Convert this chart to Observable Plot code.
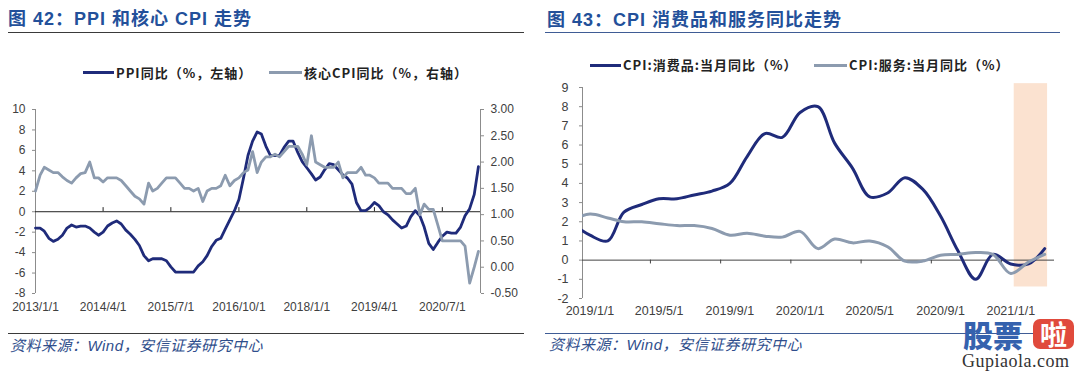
<!DOCTYPE html>
<html><head><meta charset="utf-8">
<script src="https://cdn.jsdelivr.net/npm/d3@7"></script>
<script src="https://cdn.jsdelivr.net/npm/@observablehq/plot@0.6"></script>
<style>
html,body{margin:0;padding:0;background:#fff;overflow:hidden;}
#page{position:relative;width:1080px;height:372px;overflow:hidden;background:#fff;font-family:"Liberation Sans",Arial,sans-serif;}
.abs{position:absolute;white-space:nowrap;}
.title{font-family:"Liberation Sans","Noto Sans CJK SC",sans-serif;font-weight:bold;font-size:18px;color:#23509A;letter-spacing:1px;line-height:20px;}
.rule{position:absolute;height:0;}
.leg{font-family:"Noto Sans CJK SC",sans-serif;font-size:13px;font-weight:600;color:#222;letter-spacing:1px;line-height:16px;}
.legline{position:absolute;height:3px;}
.foot{font-family:"Liberation Sans","Noto Sans CJK SC",sans-serif;font-style:italic;font-size:15px;color:#2F4E8C;letter-spacing:0.5px;line-height:18px;}
</style></head>
<body><div id="page">
  <div class="abs title" style="left:8px;top:9px;">图 42：PPI 和核心 CPI 走势</div>
  <div class="rule" style="left:8px;width:516px;top:32px;border-top:1.5px solid #3a3a3a;"></div>
  <div class="abs title" style="left:547px;top:10px;">图 43：CPI 消费品和服务同比走势</div>
  <div class="rule" style="left:545px;width:515px;top:32px;border-top:1.5px solid #3F5C95;"></div>

  <div class="legline" style="left:83px;width:31px;top:71px;background:#1F2B7A;"></div>
  <div class="abs leg" style="left:116px;top:65px;">PPI同比（%，左轴）</div>
  <div class="legline" style="left:269px;width:33px;top:71px;background:#8C9BAF;"></div>
  <div class="abs leg" style="left:304px;top:65px;">核心CPI同比（%，右轴）</div>

  <div class="legline" style="left:590px;width:31px;top:64px;background:#1F2B7A;"></div>
  <div class="abs leg" style="left:623px;top:57px;">CPI:消费品:当月同比（%）</div>
  <div class="legline" style="left:814px;width:33px;top:64px;background:#8C9BAF;"></div>
  <div class="abs leg" style="left:849px;top:57px;">CPI:服务:当月同比（%）</div>

  <div id="leftChart" class="abs" style="left:0;top:95px;"></div>
  <div id="rightChart" class="abs" style="left:540px;top:75px;"></div>

  <div class="rule" style="left:8px;width:516px;top:333px;border-top:1.5px solid #3a3a3a;"></div>
  <div class="abs foot" style="left:10px;top:337px;">资料来源：Wind，安信证券研究中心</div>
  <div class="rule" style="left:545px;width:520px;top:333px;border-top:1.5px solid #3F5C95;"></div>
  <div class="abs foot" style="left:549px;top:336px;">资料来源：Wind，安信证券研究中心</div>

  <div class="abs" style="left:963px;top:319px;font-family:'Noto Sans CJK SC',sans-serif;font-weight:900;font-size:30px;line-height:31px;color:#3562AE;">股票</div>
  <div class="abs" style="left:1033px;top:319px;width:41px;height:30px;background:#E04A3C;border-radius:7px;color:#fff;font-family:'Noto Sans CJK SC',sans-serif;font-weight:bold;font-size:27px;line-height:30px;text-align:center;">啦</div>
  <div class="abs" style="left:962px;top:352px;font-family:'Liberation Serif',serif;font-size:18px;line-height:19px;color:#333;letter-spacing:0.5px;">Gupiaola.com</div>
</div>
<script>
// ---------- Left chart data (monthly, 2013-01 .. 2021-03) ----------
const ppiYoY = [
 -1.6,-1.6,-1.9,-2.6,-2.9,-2.7,-2.3,-1.6,-1.3,-1.5,-1.4,-1.4,
 -1.6,-2.0,-2.3,-2.0,-1.4,-1.1,-0.9,-1.2,-1.8,-2.2,-2.7,-3.3,
 -4.3,-4.8,-4.6,-4.6,-4.6,-4.8,-5.4,-5.9,-5.9,-5.9,-5.9,-5.9,
 -5.3,-4.9,-4.3,-3.4,-2.8,-2.6,-1.7,-0.8,0.1,1.2,3.3,5.5,
 6.9,7.8,7.6,6.4,5.5,5.5,5.5,6.3,6.9,6.9,5.8,4.9,
 4.3,3.7,3.1,3.4,4.1,4.7,4.6,4.1,3.6,3.3,2.7,0.9,
 0.1,0.1,0.4,0.9,0.6,0.0,-0.3,-0.8,-1.2,-1.6,-1.4,-0.5,
 0.1,-0.4,-1.5,-3.1,-3.7,-3.0,-2.4,-2.0,-2.1,-2.1,-1.5,-0.4,
 0.3,1.7,4.4];
const coreCpiYoY = [
 1.45,1.75,1.9,1.85,1.8,1.8,1.72,1.65,1.6,1.7,1.78,1.8,
 2.0,1.7,1.7,1.62,1.7,1.7,1.7,1.65,1.55,1.45,1.35,1.3,
 1.2,1.6,1.45,1.5,1.6,1.7,1.7,1.7,1.6,1.5,1.5,1.45,
 1.5,1.25,1.45,1.5,1.5,1.55,1.75,1.55,1.65,1.7,1.8,1.85,
 2.2,1.8,2.0,2.1,2.1,2.15,2.1,2.2,2.3,2.3,2.3,2.15,
 1.95,2.5,2.0,1.95,1.9,1.9,1.9,2.0,1.7,1.8,1.8,1.8,
 1.9,1.75,1.75,1.7,1.6,1.6,1.6,1.5,1.5,1.5,1.4,1.4,
 1.5,1.0,1.2,1.1,1.1,0.8,0.5,0.5,0.5,0.5,0.5,0.4,
 -0.3,0.0,0.3];
const leftStart = "2013-01-01";
const leftXLabels = ["2013-01-01","2014-04-01","2015-07-01","2016-10-01","2018-01-01","2019-04-01","2020-07-01"];
const leftYTicks = [-8,-6,-4,-2,0,2,4,6,8,10];
const rightAxisTicks = [-0.5,0,0.5,1,1.5,2,2.5,3];

// ---------- Right chart data (monthly, 2018-12 .. 2021-03) ----------
const rightStart = "2018-12-01";
const goodsYoY = [1.9,1.3,1.0,2.5,2.9,3.2,3.2,3.4,3.6,4.0,5.4,6.6,6.4,7.7,8.0,6.1,4.8,3.3,3.5,4.3,3.7,2.3,0.5,-1.0,0.3,-0.2,-0.2,0.6];
const servicesYoY = [2.1,2.4,2.2,2.0,2.0,1.9,1.8,1.8,1.65,1.3,1.4,1.25,1.2,1.5,0.6,1.1,0.9,1.0,0.7,-0.05,-0.05,0.25,0.3,0.4,0.3,-0.7,-0.1,0.3];
const rightXLabels = ["2019-01-01","2019-05-01","2019-09-01","2020-01-01","2020-05-01","2020-09-01","2021-01-01"];
const rightTickMarks = ["2019-04-16","2019-08-16","2019-12-16","2020-04-16","2020-08-16","2020-12-16"];
const rightYTicks = [-2,-1,0,1,2,3,4,5,6,7,8,9];
const shadeBand = [{from:"2021-01-07", to:"2021-03-06", low:-1.4, high:9.2}];

const NAVY = "#1F2B7A", GREY = "#8C9BAF", AXIS = "#8c8c8c", TXT = "#404040";
const D = s => new Date(s + "T00:00:00Z");
const fmtDate = d => `${d.getUTCFullYear()}/${d.getUTCMonth()+1}/${d.getUTCDate()}`;
const monthSeries = (start, vals) => {
  const s = D(start);
  return vals.map((v, i) => ({date: new Date(Date.UTC(s.getUTCFullYear(), s.getUTCMonth() + i, 1)), v}));
};

// ---------- Left chart ----------
const ppiData = monthSeries(leftStart, ppiYoY);
const coreData = monthSeries(leftStart, coreCpiYoY);
// secondary axis: right scale -0.5..3.0 mapped onto left scale -8..10
const toLeft = v => -8 + (v + 0.5) * 18 / 3.5;
const fromLeft = y => (y + 8) * 3.5 / 18 - 0.5;
const lx0 = D("2013-01-01"), lx1 = D("2021-03-15");

const left = Plot.plot({
  width: 540, height: 228,
  marginLeft: 35, marginRight: 60, marginTop: 14, marginBottom: 30,
  x: {type: "utc", domain: [lx0, lx1], axis: null, label: null},
  y: {domain: [-8, 10], axis: null, label: null},
  style: {fontFamily: "'Liberation Sans', Arial, sans-serif", fontSize: "12px", background: "none", overflow: "visible"},
  marks: [
    Plot.ruleX([lx0, lx1], {stroke: AXIS, strokeWidth: 1}),
    Plot.ruleY([0], {stroke: "#222", strokeWidth: 1}),
    Plot.ruleX(leftXLabels.slice(1).map(D), {y1: 0, y2: 0.4, stroke: "#222"}),
    Plot.axisY({anchor: "left", ticks: leftYTicks, tickSize: 3, tickPadding: 7, stroke: AXIS, fill: TXT, label: null, tickFormat: d => String(d)}),
    Plot.axisY({anchor: "right", ticks: rightAxisTicks.map(toLeft), tickSize: 3, tickPadding: 7, stroke: AXIS, fill: TXT, label: null, tickFormat: d => fromLeft(d).toFixed(2)}),
    Plot.axisX({ticks: leftXLabels.map(D), tickSize: 0, tickPadding: 9, fill: TXT, label: null, tickFormat: fmtDate}),
    Plot.line(ppiData, {x: "date", y: "v", stroke: NAVY, strokeWidth: 2.8}),
    Plot.line(coreData, {x: "date", y: d => toLeft(d.v), stroke: GREY, strokeWidth: 2.8})
  ]
});
document.getElementById("leftChart").appendChild(left);

// ---------- Right chart ----------
const goodsData = monthSeries(rightStart, goodsYoY);
const servicesData = monthSeries(rightStart, servicesYoY);
const rx0 = D("2018-12-19"), rx1 = D("2021-03-18");

const right = Plot.plot({
  width: 540, height: 253,
  marginLeft: 42, marginRight: 26, marginTop: 12, marginBottom: 30,
  x: {type: "utc", domain: [rx0, rx1], axis: null, label: null},
  y: {domain: [-2, 9], axis: null, label: null},
  style: {fontFamily: "'Liberation Sans', Arial, sans-serif", fontSize: "12.5px", background: "none", overflow: "visible"},
  marks: [
    Plot.rect(shadeBand, {x1: d => D(d.from), x2: d => D(d.to), y1: "low", y2: "high", fill: "#FBE2D0"}),
    Plot.ruleX([rx0], {stroke: AXIS, strokeWidth: 1}),
    Plot.ruleY([0], {stroke: "#444", strokeWidth: 1}),
    Plot.ruleX(rightTickMarks.map(D), {y1: 0, y2: -0.2, stroke: "#444"}),
    Plot.axisY({anchor: "left", ticks: rightYTicks, tickSize: 3, tickPadding: 11, stroke: AXIS, fill: TXT, label: null, tickFormat: d => String(d)}),
    Plot.axisX({ticks: rightXLabels.map(D), tickSize: 0, tickPadding: 8, fill: TXT, label: null, tickFormat: fmtDate}),
    Plot.line(goodsData, {x: "date", y: "v", stroke: NAVY, strokeWidth: 3, curve: "catmull-rom", clip: true}),
    Plot.line(servicesData, {x: "date", y: "v", stroke: GREY, strokeWidth: 3, curve: "catmull-rom", clip: true})
  ]
});
document.getElementById("rightChart").appendChild(right);
</script>
</body></html>
